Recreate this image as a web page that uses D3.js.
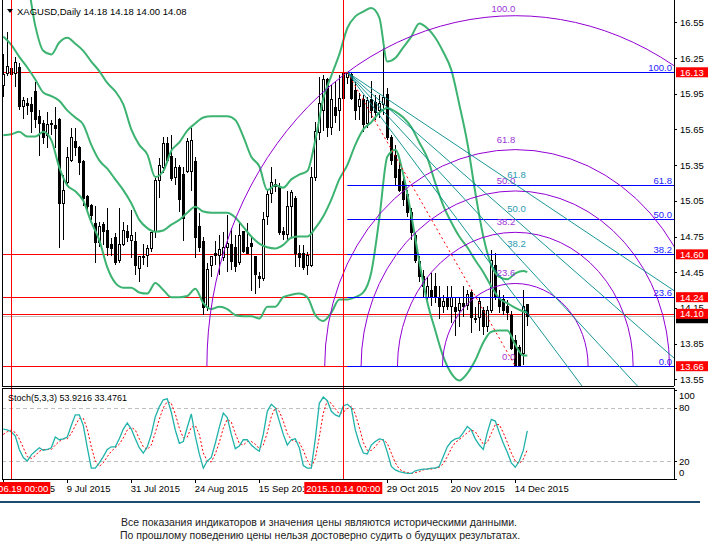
<!DOCTYPE html>
<html>
<head>
<meta charset="utf-8">
<title>XAGUSD Daily</title>
<style>
  body { margin: 0; background: #fff; }
  svg { display: block; }
  .t { font-family: "Liberation Sans", Arial, sans-serif; font-size: 9.5px; }
  .foot { font-family: "Liberation Sans", Arial, sans-serif; font-size: 10.5px; fill: #222; text-anchor: middle; }
</style>
<script src="https://d3js.org/d3.v7.min.js"></script>
</head>
<body>
<script>
// ---------- candles (bar 0 = 17 Jun 2015 ... bar 131 = last bar) ----------
var opens = [16.02,16.12,16.16,16.12,16.17,15.84,15.87,15.86,15.97,15.76,15.70,15.60,15.69,15.68,15.73,15.03,15.20,15.39,15.55,15.50,
  15.38,15.09,15.01,14.86,14.70,14.85,14.80,14.68,14.74,14.55,14.68,14.79,14.72,14.71,14.48,14.58,14.59,14.65,14.79,15.22,
  15.33,15.53,15.42,15.25,15.33,15.27,15.30,15.30,15.38,14.83,14.71,14.15,14.51,14.61,14.59,14.57,14.66,14.68,14.66,14.53,
  14.79,14.66,14.69,14.58,14.41,14.40,14.92,15.11,15.19,15.16,14.79,14.77,15.00,15.07,14.61,14.61,14.51,14.51,15.25,15.62,
  15.81,16.07,15.67,15.83,15.81,16.12,16.09,16.11,15.98,15.84,15.90,15.70,15.90,15.88,15.81,15.86,15.94,15.58,15.43,15.31,
  15.21,15.10,14.95,14.76,14.54,14.41,14.24,14.30,14.33,14.24,14.16,14.24,14.16,14.15,14.13,14.19,14.17,14.28,14.06,14.07,
  14.13,13.99,14.13,14.51,14.24,14.22,14.16,14.09,13.88,13.82,13.77,14.18];
var highs = [16.28,16.47,16.26,16.26,16.21,15.92,15.91,15.92,16.05,15.81,15.73,15.80,15.73,15.84,15.75,15.27,15.50,15.66,15.66,15.51,
  15.39,15.10,15.02,15.01,14.87,14.87,14.99,14.74,14.78,14.99,14.87,14.85,14.97,14.79,14.59,14.69,14.68,14.79,15.24,15.41,
  15.59,15.59,15.60,15.41,15.35,15.33,15.58,15.66,15.42,14.95,14.75,14.53,14.59,14.71,14.76,14.79,14.93,14.82,14.76,14.86,
  14.80,14.86,14.75,14.59,14.45,14.96,15.15,15.33,15.23,15.20,14.83,15.13,15.14,15.09,14.68,14.68,14.62,15.33,15.71,16.09,
  16.11,16.08,16.02,16.05,16.11,16.12,16.13,16.12,16.05,15.96,15.94,15.92,16.06,15.94,15.94,16.36,16.00,15.60,15.52,15.42,
  15.26,15.14,14.99,14.78,14.59,14.47,14.41,14.44,14.44,14.33,14.26,14.33,14.33,14.23,14.24,14.33,14.30,14.30,14.16,14.24,
  14.16,14.17,14.64,14.61,14.30,14.26,14.22,14.12,13.92,13.84,14.30,14.18];
var lows = [15.92,16.10,16.04,16.01,15.81,15.74,15.77,15.62,15.66,15.43,15.53,15.49,15.60,15.49,14.65,14.72,15.18,15.38,15.43,15.27,
  15.01,14.96,14.89,14.53,14.66,14.68,14.59,14.59,14.51,14.53,14.67,14.70,14.57,14.43,14.37,14.51,14.49,14.62,14.74,15.07,
  15.28,15.37,15.22,15.18,14.96,14.71,15.28,15.13,14.57,14.62,14.09,14.12,14.41,14.51,14.43,14.54,14.45,14.47,14.45,14.51,
  14.61,14.60,14.29,14.27,14.32,14.38,14.85,15.03,15.12,14.76,14.72,14.72,14.74,14.49,14.49,14.47,14.43,14.49,15.22,15.56,
  15.64,15.59,15.60,15.70,15.64,15.80,16.03,15.90,15.73,15.73,15.63,15.66,15.75,15.73,15.75,15.77,15.56,15.35,15.18,15.12,
  15.01,14.91,14.72,14.53,14.37,14.24,14.22,14.17,14.19,14.06,14.11,14.13,14.02,13.91,13.99,14.07,14.13,13.94,14.02,13.96,
  13.92,13.95,14.11,14.22,14.11,14.09,14.05,13.80,13.66,13.67,13.67,14.00];
var closes = [16.11,16.18,16.11,16.21,15.84,15.89,15.85,15.80,15.73,15.70,15.58,15.69,15.70,15.66,15.03,15.14,15.41,15.58,15.50,15.37,
  15.07,15.00,14.93,14.70,14.83,14.79,14.66,14.65,14.53,14.68,14.80,14.74,14.76,14.51,14.58,14.57,14.65,14.78,15.22,15.35,
  15.53,15.39,15.24,15.33,15.06,14.90,15.55,15.56,14.74,14.66,14.15,14.47,14.58,14.59,14.64,14.66,14.69,14.54,14.50,14.76,
  14.62,14.61,14.67,14.43,14.40,14.89,15.10,15.20,15.17,14.78,14.77,15.00,15.12,14.61,14.57,14.49,14.59,15.25,15.63,15.87,
  16.07,15.67,15.90,15.77,15.91,15.91,16.12,15.91,15.81,15.90,15.69,15.89,15.81,15.79,15.87,15.92,15.58,15.39,15.25,15.14,
  15.06,14.95,14.78,14.55,14.41,14.33,14.33,14.24,14.24,14.16,14.20,14.16,14.24,14.12,14.19,14.16,14.26,14.07,14.05,14.20,
  13.99,14.13,14.55,14.24,14.16,14.13,14.11,13.81,13.67,13.67,14.16,14.08];

// ---------- Bollinger bands, read every second bar ----------
var bandBars = [0,2,4,6,8,10,12,14,16,18,20,22,24,26,28,30,32,34,36,38,40,42,44,46,48,50,52,54,56,58,60,62,64,66,68,70,
  72,74,76,78,80,82,84,86,88,90,92,94,96,98,100,102,104,106,108,110,112,114,116,118,120,122,124,126,128,130,131];
var bandUpper = [17.41,17.26,17.09,16.90,16.52,16.31,16.28,16.38,16.42,16.37,16.31,16.22,16.14,16.04,15.97,15.86,15.65,15.52,15.44,15.25,
  15.30,15.47,15.54,15.64,15.70,15.75,15.76,15.76,15.76,15.73,15.59,15.42,15.34,15.14,15.18,15.16,15.23,15.27,15.30,15.56,
  15.91,16.10,16.28,16.50,16.60,16.64,16.67,16.59,16.22,16.25,16.34,16.43,16.54,16.50,16.42,16.30,16.15,15.86,15.54,15.12,
  14.75,14.51,14.41,14.39,14.44,14.46,14.45];
var bandMiddle = [16.43,16.36,16.26,16.17,16.07,15.96,15.93,15.89,15.81,15.75,15.69,15.52,15.39,15.32,15.23,15.14,15.03,14.89,14.82,14.79,
  14.80,14.85,14.89,14.95,15.00,14.96,14.95,14.95,14.95,14.91,14.83,14.75,14.69,14.66,14.65,14.68,14.74,14.75,14.75,14.82,
  14.92,15.06,15.23,15.35,15.52,15.65,15.71,15.79,15.83,15.80,15.75,15.67,15.54,15.41,15.20,15.01,14.87,14.75,14.66,14.55,
  14.45,14.33,14.23,14.19,14.15,14.12,14.11];
var bandLower = [15.60,15.61,15.63,15.59,15.59,15.63,15.56,15.33,15.18,15.13,15.05,14.87,14.72,14.49,14.36,14.32,14.32,14.28,14.27,14.36,
  14.30,14.24,14.24,14.25,14.31,14.19,14.14,14.16,14.14,14.09,14.08,14.08,14.06,14.16,14.16,14.24,14.26,14.27,14.24,14.09,
  14.04,14.11,14.22,14.22,14.24,14.28,14.45,14.90,15.42,15.48,15.27,14.93,14.54,14.20,13.96,13.74,13.60,13.54,13.60,13.71,
  13.86,13.95,13.96,13.96,13.84,13.75,13.75];

// ---------- Stochastic (5,3,3) ----------
var stochMain = [56,55,53,48,33,24,20,27,31,35,32,33,35,47,44,45,47,60,72,72,
  60,35,12,12,18,25,33,36,36,45,56,63,56,45,35,29,36,50,70,81,
  89,90,75,55,40,42,58,73,48,28,12,20,24,40,58,74,69,50,34,37,
  44,44,38,34,31,50,76,84,80,65,50,38,44,45,35,15,12,12,45,85,
  92,88,76,72,70,82,84,80,55,40,29,28,38,42,45,44,30,14,10,8,
  7,6,6,9,10,11,11,12,12,14,25,36,42,45,46,52,59,55,45,38,
  33,52,67,65,52,40,30,18,13,20,32,54];
var stochSignal = [50,53,55,52,45,35,25,23,26,31,33,33,33,38,42,45,45,51,60,68,
  68,56,36,20,14,18,25,31,35,39,46,55,58,55,45,36,33,38,52,67,
  80,87,85,73,57,46,47,58,60,50,29,20,19,28,41,57,67,64,51,40,
  38,42,42,39,34,38,52,70,80,76,65,51,44,42,41,32,21,13,23,47,
  74,88,85,79,73,75,79,82,73,58,41,32,32,36,42,44,40,29,18,11,
  8,7,6,7,8,10,11,11,12,13,17,25,34,41,44,48,52,55,53,46,
  39,41,51,61,61,52,41,29,20,17,22,33];

// ---------- axes, levels, objects ----------
var priceTicks = [16.55,16.25,15.95,15.65,15.35,15.05,14.75,14.45,14.15,13.85,13.55];
var stochTicks = [100,80,20,0];
var stochLevels = [80,20];
var dateBars = [0,16,32,48,64,96,112,128];
var dateNames = ["17 Jun 2015","9 Jul 2015","31 Jul 2015","24 Aug 2015","15 Sep 2015","29 Oct 2015","20 Nov 2015","14 Dec 2015"];
var redLevels = [16.13,14.60,14.24,14.10,13.66];
var bidPrice = 14.08;
var vlineBars = [2,85];
var vlineNames = ["2015.06.19 00:00","2015.10.14 00:00"];
var fibBars = [86,128];
var fibPrices = [16.13,13.66];
var retraceLevels = [0,23.6,38.2,50,61.8,100];
var arcLevels = [0,23.6,38.2,50,61.8,100];
var fanLevels = [23.6,38.2,50,61.8];
var fanLabels = [38.2,50,61.8];
var arcAspect = 0.0382; // price per bar used by the arcs

var W = 714, H = 552;
var left = 2, right = 674, mainTop = 0, mainBot = 386, stTop = 388, stBot = 479;

var svg = d3.select('body').append('svg').attr('width', W).attr('height', H);

var x = d3.scaleLinear().domain([0, 131]).range([3.3, 527.3]);
var y = d3.scaleLinear().domain([13.55, 16.55]).range([379.3, 22.3]);
var ys = d3.scaleLinear().domain([0, 100]).range([478.8, 390]);

var defs = svg.append('defs');
defs.append('clipPath').attr('id', 'cm').append('rect')
  .attr('x', left).attr('y', mainTop).attr('width', right - left).attr('height', mainBot - mainTop);
defs.append('clipPath').attr('id', 'cs').append('rect')
  .attr('x', left).attr('y', stTop).attr('width', right - left).attr('height', stBot - stTop);

var gm = svg.append('g').attr('clip-path', 'url(#cm)');
var gs = svg.append('g').attr('clip-path', 'url(#cs)');

// bid line + red levels
gm.append('line').attr('x1', left).attr('x2', right)
  .attr('y1', Math.round(y(bidPrice)) + 0.5).attr('y2', Math.round(y(bidPrice)) + 0.5)
  .attr('stroke', '#c0c0c0');
gm.selectAll('.rl').data(redLevels).enter().append('line')
  .attr('x1', left).attr('x2', right)
  .attr('y1', d => Math.round(y(d)) + 0.5).attr('y2', d => Math.round(y(d)) + 0.5)
  .attr('stroke', '#ff0000');

// vertical red lines over both panels
svg.selectAll('.vl').data(vlineBars).enter().append('line')
  .attr('x1', d => Math.round(x(d)) + 0.5).attr('x2', d => Math.round(x(d)) + 0.5)
  .attr('y1', mainTop).attr('y2', stBot)
  .attr('stroke', '#ff0000');

// candles
var idx = d3.range(opens.length);
var gc = gm.append('g').attr('shape-rendering', 'crispEdges');
gc.selectAll('.wick').data(idx).enter().append('line')
  .attr('x1', i => Math.round(x(i)) + 0.5).attr('x2', i => Math.round(x(i)) + 0.5)
  .attr('y1', i => y(highs[i])).attr('y2', i => y(lows[i]))
  .attr('stroke', '#000');
gc.selectAll('.body').data(idx).enter().append('rect')
  .attr('x', i => Math.round(x(i)) - 1 + 0.5)
  .attr('y', i => y(Math.max(opens[i], closes[i])))
  .attr('width', 2)
  .attr('height', i => Math.max(1, Math.abs(y(opens[i]) - y(closes[i]))))
  .attr('fill', i => closes[i] >= opens[i] ? '#fff' : '#000')
  .attr('stroke', '#000');

// bollinger bands
[bandUpper, bandMiddle, bandLower].forEach(function (band) {
  var line = d3.line().x((d, k) => x(bandBars[k])).y(d => y(d)).curve(d3.curveMonotoneX);
  gm.append('path').attr('d', line(band))
    .attr('fill', 'none').attr('stroke', '#3cb371').attr('stroke-width', 2);
});

// fibonacci objects
var p1 = { i: fibBars[0], p: fibPrices[0] }, p2 = { i: fibBars[1], p: fibPrices[1] };
var dI = p2.i - p1.i, dP = p1.p - p2.p;

retraceLevels.forEach(function (f) {
  var yy = Math.round(y(p2.p + dP * f / 100)) + 0.5;
  gm.append('line').attr('x1', x(p1.i)).attr('x2', right).attr('y1', yy).attr('y2', yy)
    .attr('stroke', '#0000ff');
  gm.append('text').attr('class', 't').attr('x', right - 2).attr('y', yy - 2)
    .attr('text-anchor', 'end').attr('fill', '#2424ff').text(f.toFixed(1));
});

var rBars = Math.sqrt(dI * dI + Math.pow(dP / arcAspect, 2));
var cx = x(p2.i), cy = y(p2.p);
arcLevels.forEach(function (f) {
  var rx = x(p2.i + f / 100 * rBars) - cx;
  var ry = cy - y(p2.p + f / 100 * rBars * arcAspect);
  if (rx > 0) {
    gm.append('path')
      .attr('d', 'M' + (cx - rx) + ',' + cy + ' A' + rx + ',' + ry + ' 0 0 1 ' + (cx + rx) + ',' + cy)
      .attr('fill', 'none').attr('stroke', '#9400d3');
  }
  gm.append('text').attr('class', 't').attr('x', cx).attr('y', cy - ry - (f === 0 ? 6 : 7) + (f === 100 ? 3 : 0))
    .attr('text-anchor', 'end').attr('fill', '#a035d8').text(f.toFixed(1));
});

var farBar = 175;
fanLevels.forEach(function (f) {
  var pf = p2.p + dP * f / 100;
  var slope = (pf - p1.p) / dI;
  gm.append('line').attr('x1', x(p1.i)).attr('y1', y(p1.p))
    .attr('x2', x(farBar)).attr('y2', y(p1.p + slope * (farBar - p1.i)))
    .attr('stroke', '#008b8b').attr('stroke-width', 0.9);
});
fanLabels.forEach(function (f) {
  gm.append('text').attr('class', 't').attr('x', cx - 8).attr('y', y(p2.p + dP * f / 100) - 7)
    .attr('fill', '#2a9bb0').text(f.toFixed(1));
});

gm.append('line').attr('x1', x(p1.i)).attr('y1', y(p1.p)).attr('x2', x(p2.i)).attr('y2', y(p2.p))
  .attr('stroke', '#ff0000').attr('stroke-dasharray', '2,3');

// header
svg.append('path').attr('d', 'M7,9 L13,9 L10,13 Z').attr('fill', '#000');
svg.append('text').attr('class', 't').attr('x', 17).attr('y', 14.5).attr('fill', '#000')
  .text('XAGUSD,Daily  14.18 14.18 14.00 14.08');

// stochastic panel
gs.selectAll('.lv').data(stochLevels).enter().append('line')
  .attr('x1', left).attr('x2', right)
  .attr('y1', d => Math.round(ys(d)) + 0.5).attr('y2', d => Math.round(ys(d)) + 0.5)
  .attr('stroke', '#c0c0c0').attr('stroke-dasharray', '4,3');
var sline = d3.line().x((d, i) => x(i)).y(d => ys(d));
gs.append('path').attr('d', sline(stochSignal)).attr('fill', 'none')
  .attr('stroke', '#ff0000').attr('stroke-dasharray', '2,2');
gs.append('path').attr('d', sline(stochMain)).attr('fill', 'none')
  .attr('stroke', '#20b2aa').attr('stroke-width', 1.3);
svg.append('text').attr('class', 't').attr('x', 8).attr('y', 401).style('font-size', '9px')
  .text('Stoch(5,3,3) 53.9216 33.4761');

// frames
var frame = svg.append('g').attr('shape-rendering', 'crispEdges').attr('stroke', '#000').attr('fill', 'none');
frame.append('line').attr('x1', left + 0.5).attr('x2', left + 0.5).attr('y1', 0).attr('y2', mainBot);
frame.append('line').attr('x1', right + 0.5).attr('x2', right + 0.5).attr('y1', 0).attr('y2', mainBot);
frame.append('line').attr('x1', left).attr('x2', right).attr('y1', mainBot + 0.5).attr('y2', mainBot + 0.5);
frame.append('rect').attr('x', left + 0.5).attr('y', stTop + 0.5).attr('width', right - left).attr('height', stBot - stTop);

// price axis
var ax = svg.append('g');
ax.selectAll('.tk').data(priceTicks).enter().append('line')
  .attr('x1', right).attr('x2', right + 3).attr('y1', d => Math.round(y(d)) + 0.5).attr('y2', d => Math.round(y(d)) + 0.5)
  .attr('stroke', '#000');
ax.selectAll('.tl').data(priceTicks).enter().append('text').attr('class', 't')
  .attr('x', right + 6).attr('y', d => y(d) + 3.5).text(d => d.toFixed(2));

// bid marker under the red labels
ax.append('rect').attr('x', right + 2).attr('y', y(bidPrice) - 4).attr('width', 32).attr('height', 11).attr('fill', '#000');
redLevels.forEach(function (d) {
  ax.append('rect').attr('x', right + 2).attr('y', y(d) - 5).attr('width', 32).attr('height', 10).attr('fill', '#ff0000');
  ax.append('text').attr('class', 't').attr('x', right + 6).attr('y', y(d) + 3.5).attr('fill', '#fff').text(d.toFixed(2));
});

// stochastic axis
stochTicks.forEach(function (v) {
  var yy = Math.min(Math.max(ys(v), stTop + 7), stBot - 7);
  svg.append('line').attr('x1', right).attr('x2', right + 3).attr('y1', Math.round(ys(v)) + 0.5).attr('y2', Math.round(ys(v)) + 0.5)
    .attr('stroke', '#000');
  svg.append('text').attr('class', 't').attr('x', right + 5).attr('y', yy + 3.5).text(v);
});

// date axis: crosshair boxes first, ordinary labels clipped around them
var boxes = [];
var gBox = svg.append('g');
vlineBars.forEach(function (b, k) {
  var t = gBox.append('text').attr('class', 't').attr('x', x(b)).attr('y', 492)
    .attr('text-anchor', 'middle').attr('fill', '#fff').text(vlineNames[k]);
  var bb = t.node().getBBox();
  boxes.push([bb.x - 2, bb.x + bb.width + 2]);
  gBox.insert('rect', function () { return t.node(); })
    .attr('x', bb.x - 2).attr('y', 482).attr('width', bb.width + 4).attr('height', 12).attr('fill', '#ff0000');
});
var gDates = svg.insert('g', function () { return gBox.node(); });
gDates.selectAll('.dt').data(dateBars).enter().append('line')
  .attr('x1', d => Math.round(x(d)) + 0.5).attr('x2', d => Math.round(x(d)) + 0.5)
  .attr('y1', stBot).attr('y2', stBot + 4).attr('stroke', '#000');
dateBars.forEach(function (b, k) {
  var t = gDates.append('text').attr('class', 't').attr('x', x(b) - 0.5).attr('y', 492).text(dateNames[k]);
  var bb = t.node().getBBox();
  var x0 = bb.x, x1 = bb.x + bb.width;
  boxes.forEach(function (r) {
    if (r[0] <= x0 && r[1] > x0) x0 = r[1];
    if (r[0] > x0 && r[0] < x1) x1 = r[0];
  });
  if (x1 <= x0) { t.remove(); return; }
  if (x0 > bb.x || x1 < bb.x + bb.width) {
    defs.append('clipPath').attr('id', 'dc' + k).append('rect')
      .attr('x', x0).attr('y', 480).attr('width', x1 - x0).attr('height', 16);
    t.attr('clip-path', 'url(#dc' + k + ')');
  }
});

// footer
svg.append('rect').attr('x', 0).attr('y', 501).attr('width', 700).attr('height', 2).attr('fill', '#1d4b6e');
svg.append('text').attr('class', 'foot').attr('x', 319).attr('y', 526)
  .text('Все показания индикаторов и значения цены являются историческими данными.');
svg.append('text').attr('class', 'foot').attr('x', 320).attr('y', 539)
  .text('По прошлому поведению цены нельзя достоверно судить о будущих результатах.');
</script>
</body>
</html>
